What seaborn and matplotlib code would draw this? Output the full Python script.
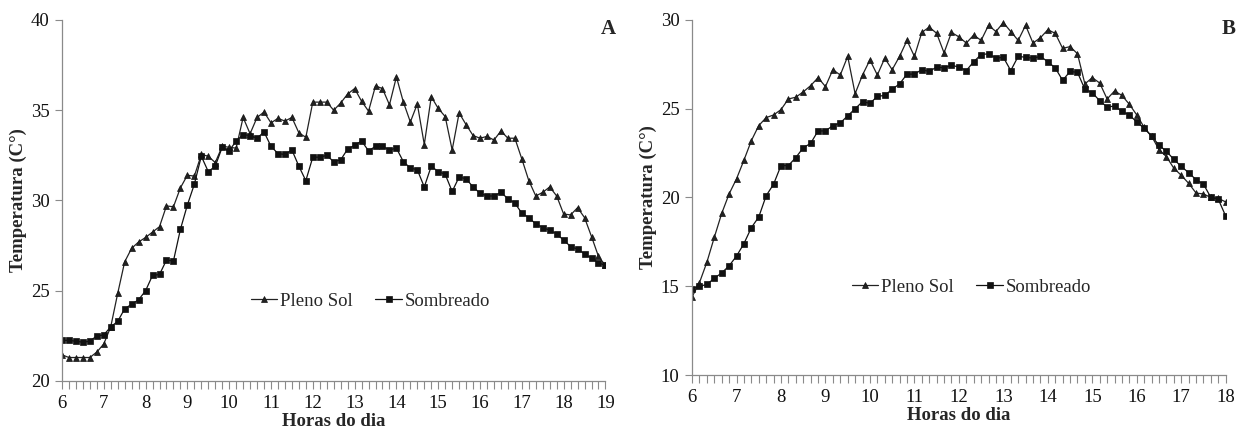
import numpy as np
import pandas as pd
import seaborn as sns
import matplotlib.pyplot as plt
from matplotlib.ticker import MultipleLocator

sns.set_style('ticks')
plt.rcParams['font.family'] = ['Liberation Serif', 'DejaVu Serif']

# Panel A: readings every 10 minutes, 6h to 19h
horas_a = 6 + np.arange(79) / 6
pleno_a = [21.45, 21.3, 21.3, 21.3, 21.3, 21.6, 22.05, 23.0, 24.85, 26.6,
           27.35, 27.7, 27.95, 28.25, 28.55, 29.7, 29.65, 30.7, 31.4, 31.35,
           32.55, 32.45, 32.1, 33.0, 32.95,
           32.9, 34.6, 33.7, 34.6, 34.9, 34.3, 34.55, 34.4, 34.6, 33.75,
           33.5, 35.45, 35.45, 35.45, 35.0, 35.4, 35.9, 36.2, 35.5, 34.95,
           36.35, 36.2, 35.3, 36.85, 35.45, 34.35, 35.35,
           33.1, 35.75, 35.1, 34.65, 32.8, 34.85, 34.2, 33.6, 33.45, 33.55,
           33.35, 33.85, 33.45, 33.45, 32.3, 31.1, 30.25, 30.45, 30.75, 30.25,
           29.25, 29.2, 29.6, 29.05, 28.0, 26.9, 26.4]
sombra_a = [22.25, 22.25, 22.2, 22.15, 22.2, 22.5, 22.55, 23.0, 23.3, 24.0,
            24.25, 24.5, 25.0, 25.85, 25.9, 26.7, 26.65, 28.4, 29.75, 30.9,
            32.45, 31.6, 31.9, 32.95, 32.75,
            33.3, 33.65, 33.6, 33.45, 33.8, 33.0, 32.6, 32.55, 32.8, 31.9,
            31.1, 32.4, 32.4, 32.5, 32.15, 32.25, 32.85, 33.05, 33.3, 32.75,
            33.0, 33.0, 32.8, 32.9, 32.15, 31.8, 31.7,
            30.75, 31.9, 31.6, 31.45, 30.5, 31.3, 31.2, 30.75, 30.4, 30.25,
            30.25, 30.45, 30.1, 29.85, 29.3, 29.05, 28.7, 28.5, 28.35, 28.15,
            27.8, 27.45, 27.3, 27.05, 26.8, 26.55, 26.4]

# Panel B: readings every 10 minutes, 6h to 18h
horas_b = 6 + np.arange(73) / 6
pleno_b = [14.4, 15.2, 16.35, 17.75, 19.1, 20.2, 21.05, 22.1, 23.2, 24.05,
           24.5, 24.65, 24.95, 25.55, 25.65, 25.95, 26.3, 26.75, 26.25, 27.2,
           26.9, 27.95, 25.85, 26.9, 27.75, 26.9, 27.85, 27.2, 27.95, 28.85,
           27.95, 29.3, 29.6, 29.25,
           28.15, 29.3, 29.05, 28.7, 29.15, 28.85, 29.7, 29.35, 29.85, 29.35,
           28.85, 29.7, 28.7, 29.0, 29.45, 29.25, 28.4, 28.5, 28.1, 26.4,
           26.75, 26.45, 25.55, 26.0, 25.75, 25.25, 24.65, 23.95, 23.45, 22.7,
           22.3, 21.65, 21.25, 20.8, 20.25, 20.2, 20.0, 19.95, 19.75]
sombra_b = [14.85, 15.0, 15.1, 15.45, 15.75, 16.15, 16.7, 17.4, 18.3, 18.9,
            20.1, 20.75, 21.8, 21.8, 22.25, 22.8, 23.05, 23.75, 23.75, 24.05,
            24.2, 24.6, 25.0, 25.4, 25.3, 25.7, 25.75, 26.1, 26.4, 26.95,
            26.95, 27.2, 27.1, 27.35,
            27.3, 27.45, 27.35, 27.15, 27.65, 28.05, 28.1, 27.85, 27.9, 27.15,
            27.95, 27.9, 27.85, 27.95, 27.65, 27.3, 26.6, 27.1, 27.05, 26.1,
            25.9, 25.45, 25.1, 25.15, 24.85, 24.65, 24.25, 23.9, 23.45, 22.95,
            22.6, 22.15, 21.75, 21.4, 21.0, 20.75, 20.0, 19.9, 18.95]

df_a = pd.DataFrame({'hora': horas_a, 'pleno': pleno_a, 'sombra': sombra_a})
df_b = pd.DataFrame({'hora': horas_b, 'pleno': pleno_b, 'sombra': sombra_b})

fig = plt.figure(figsize=(12.44, 4.30), dpi=100)
ax_a = fig.add_axes([0.0498, 0.114, 0.4369, 0.8395])
ax_b = fig.add_axes([0.5563, 0.1279, 0.429, 0.8256])

grey = '#8a8a8a'
fs = 13.5


def draw_panel(ax, df, xlim, ylim, letter, leg_pos):
    sns.lineplot(data=df, x='hora', y='pleno', ax=ax, color='#222222',
                 linewidth=0.9, marker='^', markersize=4.5,
                 markeredgecolor='#111111', markeredgewidth=0.5,
                 label='Pleno Sol')
    sns.lineplot(data=df, x='hora', y='sombra', ax=ax, color='#111111',
                 linewidth=0.9, marker='s', markersize=4.5,
                 markeredgecolor='#111111', markeredgewidth=0.5,
                 label='Sombreado')
    ax.set_xlim(*xlim)
    ax.set_ylim(*ylim)
    ax.xaxis.set_major_locator(MultipleLocator(1))
    ax.xaxis.set_minor_locator(MultipleLocator(1 / 6))
    ax.yaxis.set_major_locator(MultipleLocator(5))
    ax.tick_params(axis='both', which='both', direction='out', color=grey,
                   width=0.8, labelsize=fs, labelcolor='#111111')
    ax.tick_params(axis='x', which='both', length=6, pad=4)
    ax.tick_params(axis='y', length=5, pad=4)
    sns.despine(ax=ax)
    for side in ['left', 'bottom']:
        ax.spines[side].set_color(grey)
        ax.spines[side].set_linewidth(0.9)
        ax.spines[side].set_clip_on(False)
    ax.set_xlabel('Horas do dia', fontsize=fs, fontweight='bold', labelpad=1)
    ax.set_ylabel('Temperatura (C°)', fontsize=fs, fontweight='bold', labelpad=3)
    ax.text(1.005, 0.975, letter, transform=ax.transAxes, fontsize=15,
            fontweight='bold', ha='center', va='center')
    ax.legend(loc='center', bbox_to_anchor=leg_pos, ncol=2, frameon=False,
              fontsize=fs, handlelength=1.4, handletextpad=0.15,
              columnspacing=1.2, borderaxespad=0)


draw_panel(ax_a, df_a, (6, 19), (20, 40), 'A', (0.5676, 0.2216))
draw_panel(ax_b, df_b, (6, 18), (10, 30), 'B', (0.5237, 0.2479))

fig.savefig('out.png', dpi=100)
